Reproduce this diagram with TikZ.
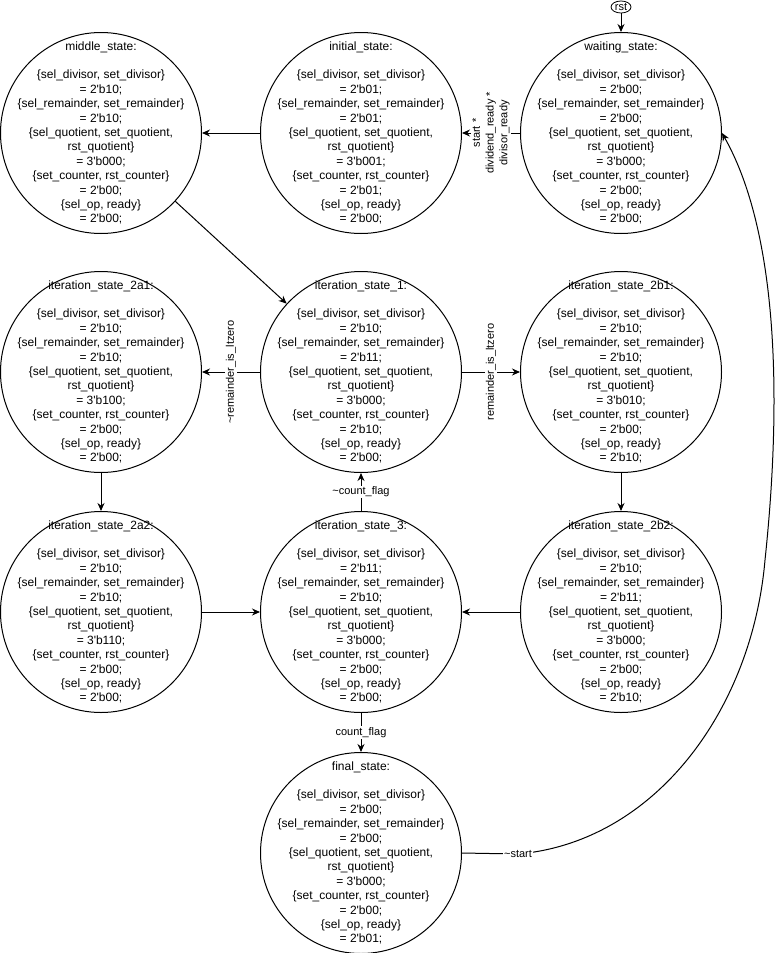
\documentclass[tikz,border=0pt]{standalone}
\usepackage{fontspec}
\setmainfont{Liberation Sans}[Ligatures=TeXOff]
\usetikzlibrary{shapes.geometric,arrows.meta}
\newcommand\stbody[6]{#1:\\[14.4pt]\{sel\_divisor, set\_divisor\}\\= 2'b#2;\\\{sel\_remainder, set\_remainder\}\\= 2'b#3;\\\{sel\_quotient, set\_quotient,\\rst\_quotient\}\\= 3'b#4;\\\{set\_counter, rst\_counter\}\\= 2'b#5;\\\{sel\_op, ready\}\\= 2'b#6;}
\tikzset{
  stnode/.style={draw, circle, minimum size=201pt, inner sep=0pt, line width=1pt},
  sttext/.style={inner sep=0pt, align=center, font=\fontsize{12}{14.4}\selectfont},
  arr/.style={-{Stealth[length=8pt,width=7pt]}, line width=1pt},
  lbl/.style={fill=white, inner sep=1pt, font=\fontsize{11}{13.8}\selectfont, align=center},
}
\begin{document}
\begin{tikzpicture}[x=1pt,y=-1pt]
\useasboundingbox (0,0) rectangle (776,953);
\node[stnode, label={[sttext]center:{\stbody{middle\_state}{10}{10}{000}{00}{00}}}] (ms) at (101,133) {};
\node[stnode, label={[sttext]center:{\stbody{initial\_state}{01}{01}{001}{01}{00}}}] (is) at (361,133) {};
\node[stnode, label={[sttext]center:{\stbody{waiting\_state}{00}{00}{000}{00}{00}}}] (ws) at (621,133) {};
\node[stnode, label={[sttext]center:{\stbody{iteration\_state\_2a1}{10}{10}{100}{00}{00}}}] (i2a1) at (101,372) {};
\node[stnode, label={[sttext]center:{\stbody{iteration\_state\_1}{10}{11}{000}{10}{00}}}] (i1) at (361,372) {};
\node[stnode, label={[sttext]center:{\stbody{iteration\_state\_2b1}{10}{10}{010}{00}{10}}}] (i2b1) at (621,372) {};
\node[stnode, label={[sttext]center:{\stbody{iteration\_state\_2a2}{10}{10}{110}{00}{00}}}] (i2a2) at (101,612) {};
\node[stnode, label={[sttext]center:{\stbody{iteration\_state\_3}{11}{10}{000}{00}{00}}}] (i3) at (361,612) {};
\node[stnode, label={[sttext]center:{\stbody{iteration\_state\_2b2}{10}{11}{000}{00}{10}}}] (i2b2) at (621,612) {};
\node[stnode, label={[sttext]center:{\stbody{final\_state}{00}{00}{000}{00}{01}}}] (fs) at (361,853) {};
\node[draw, ellipse, minimum width=20pt, minimum height=12pt, inner sep=0pt, line width=0.8pt, font=\fontsize{11}{11}\selectfont] (rst) at (621,7) {rst};

\draw[arr] (rst) -- (ws);
\draw[arr] (ws) -- node[lbl, rotate=90]{start *\\dividend\_ready *\\divisor\_ready} (is);
\draw[arr] (is) -- (ms);
\draw[arr] (ms) -- (i1);
\draw[arr] (i1) -- node[lbl, rotate=90]{\textasciitilde remainder\_is\_ltzero} (i2a1);
\draw[arr] (i1) -- node[lbl, rotate=90]{remainder\_is\_ltzero} (i2b1);
\draw[arr] (i2a1) -- (i2a2);
\draw[arr] (i2b1) -- (i2b2);
\draw[arr] (i2a2) -- (i3);
\draw[arr] (i2b2) -- (i3);
\draw[arr] (i3) -- node[lbl]{\textasciitilde count\_flag} (i1);
\draw[arr] (i3) -- node[lbl]{count\_flag} (fs);
\coordinate (c1) at (518,854);
\coordinate (c2) at (765,560);
\draw[arr] (fs.east) -- (c1) .. controls (655,842) and (752,710) .. (c2) .. controls (784,380) and (774,225) .. (ws.east);
\node[lbl] at (c1) {\textasciitilde start};
\end{tikzpicture}
\end{document}
